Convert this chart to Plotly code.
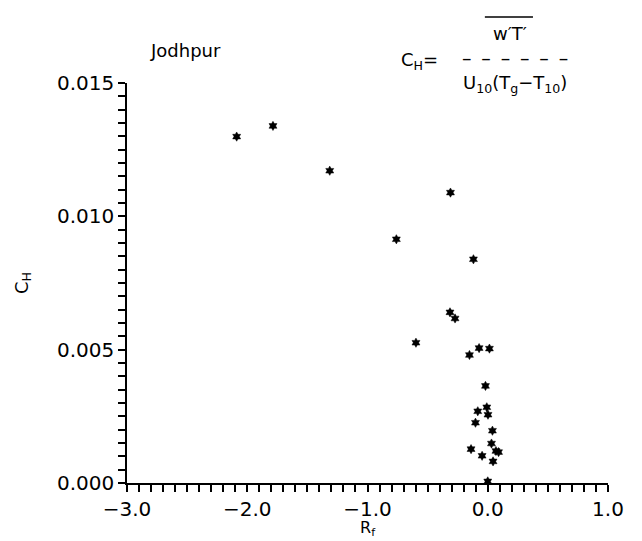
import plotly.graph_objects as go

# Data (R_f, C_H)
rf = [-2.088, -1.786, -1.314, -0.310, -0.760, -0.119, -0.314, -0.272, -0.597,
      -0.152, -0.072, 0.014, -0.019, -0.008, -0.083, 0.002, -0.102, 0.039,
      0.031, -0.139, 0.068, 0.090, -0.047, 0.044, 0.000]
ch = [0.01299, 0.01339, 0.01171, 0.01089, 0.00914, 0.00839, 0.00640, 0.00617,
      0.00526, 0.00480, 0.00506, 0.00504, 0.00364, 0.00284, 0.00269, 0.00256,
      0.00226, 0.00196, 0.00148, 0.00127, 0.00120, 0.00116, 0.00102, 0.00081,
      0.00006]

x_range = [-3.0, 1.0]
y_range = [0.0, 0.015]

FONT = "DejaVu Sans"

fig = go.Figure()
fig.add_trace(go.Scatter(
    x=rf, y=ch, mode="markers",
    marker=dict(symbol="hexagram", size=7, color="black",
                line=dict(width=0.5, color="black")),
    showlegend=False, cliponaxis=False,
))

axis_common = dict(
    showgrid=False, zeroline=False, showline=True, linecolor="black",
    linewidth=1.5, ticks="outside", ticklen=7, tickwidth=1.5,
    tickcolor="black", tickfont=dict(family=FONT, size=20, color="black"),
    automargin=False,
)

fig.update_xaxes(
    range=x_range, tickmode="linear", tick0=-3.0, dtick=1.0, tickformat=".1f",
    minor=dict(tickmode="linear", tick0=-3.0, dtick=0.1, ticks="outside",
               ticklen=7, tickwidth=1.5, tickcolor="black", showgrid=False),
    **axis_common,
)
fig.update_yaxes(
    range=y_range, tickmode="linear", tick0=0.0, dtick=0.005, tickformat=".3f",
    minor=dict(tickmode="linear", tick0=0.0, dtick=0.0005, ticks="outside",
               ticklen=7, tickwidth=1.5, tickcolor="black", showgrid=False),
    title=dict(text="C<sub>H</sub>", font=dict(family=FONT, size=18,
               color="black"), standoff=24),
    **axis_common,
)

ann_font = dict(family=FONT, size=18, color="black")
annotations = [
    dict(text="R<sub>f</sub>", x=0.5, y=-0.1125, xanchor="center", yanchor="middle",
         font=dict(family=FONT, size=16, color="black")),
    dict(text="Jodhpur", x=0.0437, y=1.08, xanchor="left", yanchor="middle"),
    dict(text="C<sub>H</sub>=", x=0.609, y=1.055, xanchor="center", yanchor="middle"),
    dict(text="w\u2032T\u2032", x=0.796, y=1.125, xanchor="center", yanchor="middle"),
    dict(text="\u2013\u00a0\u2009\u2013\u00a0\u2009\u2013\u00a0\u2009\u2013\u00a0\u2009\u2013\u00a0\u2009\u2013",
         x=0.807, y=1.062, xanchor="center", yanchor="middle",
         font=dict(family=FONT, size=19, color="black")),
    dict(text="U<sub>10</sub>(T<sub>g</sub>\u2212T<sub>10</sub>)", x=0.807, y=0.997,
         xanchor="center", yanchor="middle"),
]
for a in annotations:
    a.setdefault("font", ann_font)
    fig.add_annotation(xref="paper", yref="paper", showarrow=False, **a)

fig.add_shape(type="line", xref="paper", yref="paper",
              x0=0.744, x1=0.844, y0=1.165, y1=1.165,
              line=dict(color="black", width=1.5))

fig.update_layout(
    width=642, height=541,
    margin=dict(l=127, r=34, t=83, b=58),
    paper_bgcolor="white", plot_bgcolor="white",
    font=dict(family=FONT, color="black"),
)

fig.write_html("out.html")
